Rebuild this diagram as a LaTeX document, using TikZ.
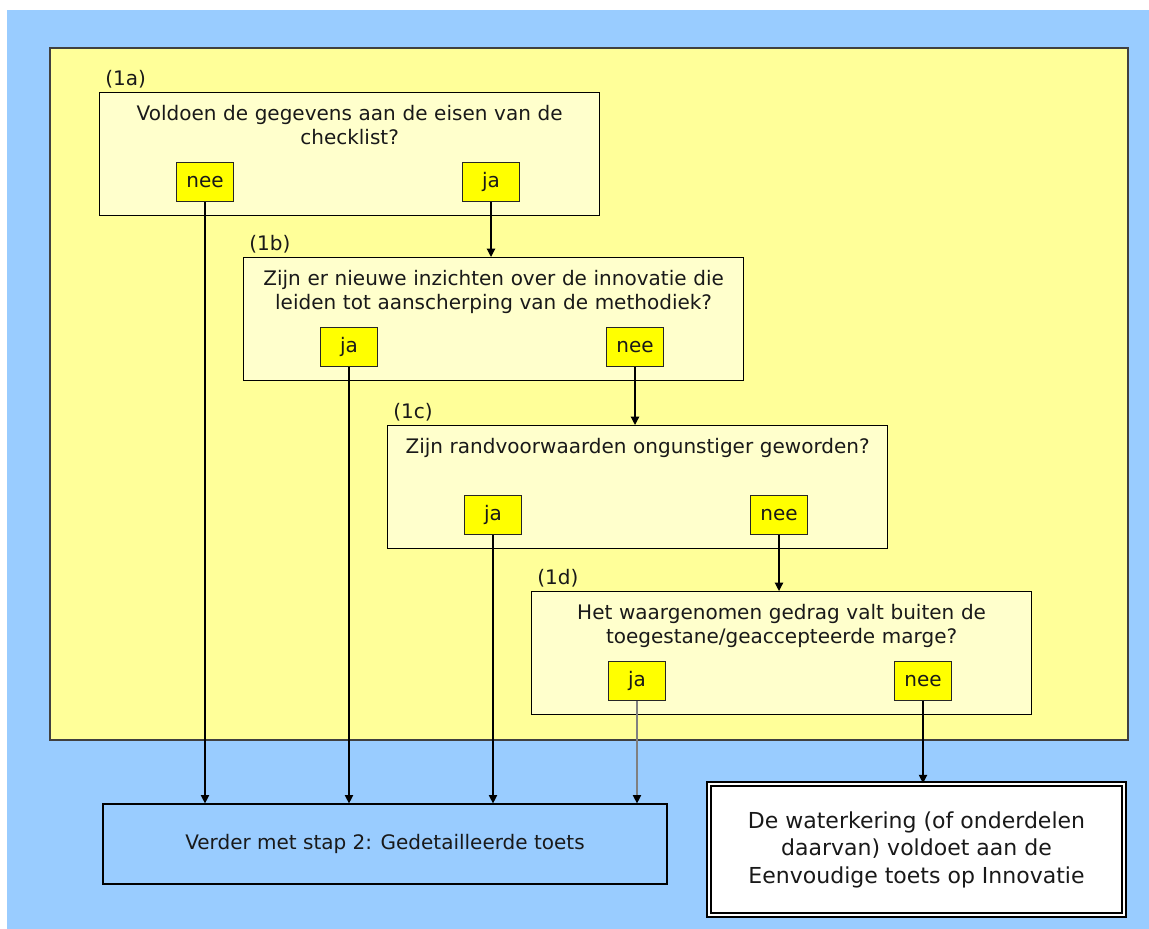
\documentclass[tikz,border=0pt]{standalone}
\usepackage{fontspec}
\setmainfont{DejaVu Sans}
\usetikzlibrary{arrows.meta}
\definecolor{bgblue}{HTML}{99CCFF}
\definecolor{panelyellow}{HTML}{FFFF99}
\definecolor{qyellow}{HTML}{FFFFCC}
\definecolor{ansyellow}{HTML}{FFFF00}
\tikzstyle{question} = [rectangle, draw, fill=qyellow, anchor=north west,
    text width=250pt, align=center, inner xsep=0pt, inner ysep=4pt,
    text height=10pt, text depth=43.5pt, line width=0.6pt]
\tikzstyle{answer} = [rectangle, draw=black!85, fill=ansyellow,
    minimum width=28.5pt, minimum height=19.5pt, inner sep=0pt, line width=0.6pt]
\tikzstyle{steplabel} = [anchor=south west, inner sep=1.5pt]
\tikzstyle{nextstep} = [rectangle, draw, fill=bgblue, minimum width=282pt,
    minimum height=40pt, line width=0.6pt]
\tikzstyle{verdict} = [rectangle, draw, double, double distance=1pt, line width=0.8pt,
    fill=white, minimum width=207.5pt, minimum height=65.5pt, align=center,
    font=\fontsize{11}{13.75}\selectfont]
\tikzstyle{arrow} = [draw, -{Triangle[length=4.2pt,width=4.2pt]}, line width=0.6pt]

\begin{document}
\begin{tikzpicture}[x=0.5pt, y=-0.5pt, font=\fontsize{10}{12}\selectfont, text=black!90]
			\useasboundingbox (0,0) rectangle (1149,929);
			% background and panel
			\fill[bgblue] (7,10) rectangle (1149,929);
			\draw[fill=panelyellow, draw=black!75, line width=0.8pt] (50,48) rectangle (1128,740);
			% Place questions
			\node [question] (q1a) at (99,92) {Voldoen de gegevens aan de eisen van de\\checklist?};
			\node [question] (q1b) at (243,257) {Zijn er nieuwe inzichten over de innovatie die\\leiden tot aanscherping van de methodiek?};
			\node [question] (q1c) at (387,425) {Zijn randvoorwaarden ongunstiger geworden?};
			\node [question] (q1d) at (531,591) {Het waargenomen gedrag valt buiten de\\toegestane/geaccepteerde marge?};
			\node [steplabel] (lab1a) at ([xshift=1.5pt]q1a.north west) {(1a)};
			\node [steplabel] (lab1b) at ([xshift=1.5pt]q1b.north west) {(1b)};
			\node [steplabel] (lab1c) at ([xshift=1.5pt]q1c.north west) {(1c)};
			\node [steplabel] (lab1d) at ([xshift=1.5pt]q1d.north west) {(1d)};
			% answers
			\node [answer] (q1a-nee) at ([xshift=53pt,yshift=17pt]q1a.south west) {nee};
			\node [answer] (q1a-ja) at ([xshift=196pt,yshift=17pt]q1a.south west) {ja};
			\node [answer] (q1b-ja) at ([xshift=53pt,yshift=17pt]q1b.south west) {ja};
			\node [answer] (q1b-nee) at ([xshift=196pt,yshift=17pt]q1b.south west) {nee};
			\node [answer] (q1c-ja) at ([xshift=53pt,yshift=17pt]q1c.south west) {ja};
			\node [answer] (q1c-nee) at ([xshift=196pt,yshift=17pt]q1c.south west) {nee};
			\node [answer] (q1d-ja) at ([xshift=53pt,yshift=17pt]q1d.south west) {ja};
			\node [answer] (q1d-nee) at ([xshift=196pt,yshift=17pt]q1d.south west) {nee};
			% outcomes
			\node [nextstep] (verder) at (385,844) {Verder met stap 2: Gedetailleerde toets};
			\node [verdict] (voldoet) at (916.5,849.5) {De waterkering (of onderdelen\\daarvan) voldoet aan de\\Eenvoudige toets op Innovatie};
			% connectors
			\path [arrow] (q1a-ja.south) -- (q1a-ja.south |- q1b.north);
			\path [arrow] (q1b-nee.south) -- (q1b-nee.south |- q1c.north);
			\path [arrow] (q1c-nee.south) -- (q1c-nee.south |- q1d.north);
			\path [arrow] (q1a-nee.south) -- (q1a-nee.south |- verder.north);
			\path [arrow] (q1b-ja.south) -- (q1b-ja.south |- verder.north);
			\path [arrow] (q1c-ja.south) -- (q1c-ja.south |- verder.north);
			\path [arrow, draw=black!50, -{Triangle[length=4.2pt,width=4.2pt,color=black]}] (q1d-ja.south) -- (q1d-ja.south |- verder.north);
			\path [arrow] (q1d-nee.south) -- (q1d-nee.south |- voldoet.north);
	\end{tikzpicture}
\end{document}
